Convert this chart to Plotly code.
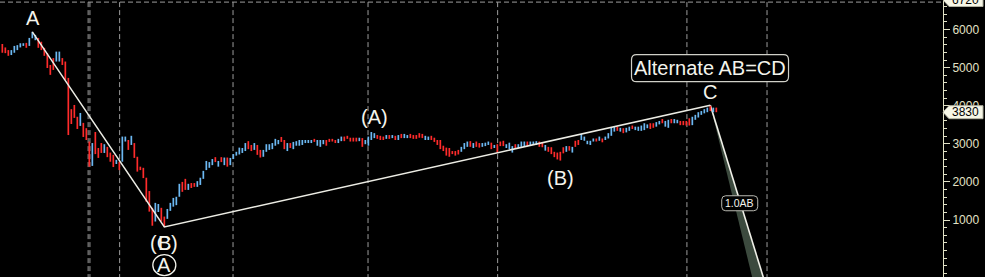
import plotly.graph_objects as go

# ---- data ----
highs = [5620,5530,5460,5460,5570,5590,5640,5640,5650,5780,5940,5860,5780,5680,5520,5380,5070,5250,5420,5420,
         5250,5160,4730,3910,4020,3710,3810,3550,3410,3060,3020,3310,2890,3020,2990,2920,2770,2710,2580,2530,
         3190,3190,3100,3210,3020,2660,2400,2370,2110,1760,1320,1450,1420,1320,1090,1290,1450,1580,1610,1950,
         2000,2080,1950,1970,1970,2020,2110,2290,2550,2520,2600,2650,2550,2650,2640,2640,2630,2730,2790,2900,
         2890,3020,3070,2970,3020,2970,2840,2840,2990,2990,3020,3130,3100,3180,3100,3020,3020,3050,3070,3100,
         3100,3100,3100,3100,3130,3100,3100,3100,3100,3130,3130,3100,3130,3190,3190,3210,3160,3160,3160,3160,
         3150,3100,3190,3310,3280,3230,3210,3190,3230,3230,3230,3210,3230,3260,3260,3230,3260,3230,3230,3280,
         3260,3210,3190,3210,3160,3100,3100,2950,2900,2890,2810,2810,2840,2920,3020,3060,3070,3020,3060,3020,
         3020,3030,3060,3030,2970,2990,3060,3080,2990,3030,2940,2990,2990,3060,3060,3060,3060,3060,3070,3060,
         3030,2970,2920,2910,2790,2770,2790,2910,2940,2940,2920,3080,3100,3260,3190,3080,3080,3140,3140,3190,
         3140,3190,3280,3420,3450,3450,3420,3410,3420,3450,3480,3450,3450,3480,3540,3510,3540,3540,3570,3600,
         3650,3600,3630,3650,3650,3630,3600,3600,3600,3670,3710,3760,3830,3860,3910,3950,4000,3950,3950]
lows = [5390,5380,5310,5330,5390,5460,5530,5570,5520,5570,5770,5720,5520,5460,5310,4990,4810,4940,5160,5160,
        5070,4680,3230,3520,3680,3390,3470,3180,3100,2400,2420,2730,2630,2760,2760,2650,2530,2390,2470,2310,
        2530,3060,2840,2970,2630,2270,2310,2100,1480,1220,850,960,1210,960,820,1030,1240,1350,1390,1610,
        1740,1790,1790,1840,1870,1870,1920,2080,2310,2370,2440,2520,2400,2520,2440,2400,2440,2600,2690,2720,
        2760,2810,2860,2810,2840,2710,2640,2660,2790,2840,2860,2950,2990,3050,2860,2810,2890,2860,2950,2950,
        2970,3020,3020,3020,3050,2950,2920,2990,2950,3050,3060,3020,3020,3070,3070,3130,3060,3060,3060,3070,
        2920,2990,2950,3100,3150,3130,3100,3100,3130,3130,3150,3100,3100,3150,3150,3150,3150,3130,3130,3160,
        3150,3100,3100,3100,3050,2970,2860,2810,2690,2660,2730,2690,2720,2790,2860,2920,2920,2890,2920,2900,
        2920,2940,2970,2860,2890,2760,2940,2940,2890,2860,2770,2890,2890,2920,2920,2940,2970,2970,2970,2920,
        2910,2820,2790,2730,2650,2590,2560,2750,2790,2820,2770,2920,2970,3100,3080,2990,2970,3060,3060,3080,
        3040,3100,3140,3210,3320,3340,3320,3280,3300,3340,3390,3360,3340,3340,3360,3410,3390,3420,3450,3510,
        3540,3450,3420,3540,3540,3540,3490,3490,3480,3480,3490,3630,3690,3760,3800,3830,3860,3830,3830]
# 'u' = up bar (blue), 'd' = down bar (red)
dirs = ("ddduuuuuduuudddddduudddddduddduddduddduddd"[:40]
        + "uududdddddduudduuuuuddudduuuuuudududuuuuu"[:40]
        + "uuddudduuuuuudduduuuuuuuduuudddduudddddu"[:40]
        + "duuuudddudududuuddddduudddddddddduuududdd"[:40]
        + "uuududdduuuduuuduuudduddddddududduuuuududdu"[:40]
        + "duuuududuuduuuuudduuduuduudddduuuuuudud"[:39])

wave_pts_x = [10, 54, 236]
wave_pts_y = [5940, 820, 4010]
proj_x = [236, 256, 251.8]
proj_y = [4010, -1100, -1100]
grid_x = [28.6, 29.2, 39.1, 76.9, 121.9, 165.1, 228.2, 254.9]
y_ticks = [1000, 2000, 3000, 4000, 5000, 6000]
last_price = 3830
top_price = 6720

RED = "#ff2b2b"
BLUE = "#6cb8f2"
BEIGE = "#e2e2c6"

fig = go.Figure()

# wedge projection
fig.add_trace(go.Scatter(x=proj_x + [proj_x[0]], y=proj_y + [proj_y[0]], mode="lines",
                         fill="toself", fillcolor="rgb(60,74,62)", line=dict(width=0),
                         hoverinfo="skip", showlegend=False))
fig.add_trace(go.Scatter(x=proj_x[:2], y=proj_y[:2], mode="lines",
                         line=dict(color="#f0f0e8", width=1.6), hoverinfo="skip", showlegend=False))

# bars
for col, key in ((BLUE, "u"), (RED, "d")):
    xs, ys = [], []
    for i, (h, l) in enumerate(zip(highs, lows)):
        if dirs[i] == key:
            xs += [i, i, None]
            ys += [l, h, None]
    fig.add_trace(go.Scatter(x=xs, y=ys, mode="lines", line=dict(color=col, width=1.7),
                             hoverinfo="skip", showlegend=False))

# wave lines
fig.add_trace(go.Scatter(x=wave_pts_x, y=wave_pts_y, mode="lines",
                         line=dict(color="#ecece4", width=1.5), hoverinfo="skip", showlegend=False))

shapes = []
for gx in grid_x:
    shapes.append(dict(type="line", xref="x", yref="y", x0=gx, x1=gx, y0=top_price, y1=-600,
                       line=dict(color="#9c9c9c", width=1, dash="5px,3px"), layer="below"))
shapes.append(dict(type="line", xref="paper", yref="y", x0=0, x1=1, y0=top_price, y1=top_price,
                   line=dict(color="#9c9c9c", width=1, dash="5px,3px"), layer="below"))


def rrect(w, h, r):
    x0, x1, y0, y1 = -w / 2, w / 2, -h / 2, h / 2
    return (f"M {x0+r},{y0} L {x1-r},{y0} Q {x1},{y0} {x1},{y0+r} L {x1},{y1-r} "
            f"Q {x1},{y1} {x1-r},{y1} L {x0+r},{y1} Q {x0},{y1} {x0},{y1-r} "
            f"L {x0},{y0+r} Q {x0},{y0} {x0+r},{y0} Z")


# circled A
shapes.append(dict(type="circle", xref="x", yref="y", xsizemode="pixel", ysizemode="pixel",
                   xanchor=54, yanchor=-185, x0=-11.5, x1=11.5, y0=-10.5, y1=10.5,
                   line=dict(color="#f4f4ec", width=1.3)))
# Alternate box
shapes.append(dict(type="path", xref="x", yref="y", xsizemode="pixel", ysizemode="pixel",
                   xanchor=235.9, yanchor=4985, path=rrect(157, 27, 5),
                   fillcolor="black", line=dict(color="#d0d0c8", width=1.2), layer="above"))
# 1.0AB box
shapes.append(dict(type="path", xref="x", yref="y", xsizemode="pixel", ysizemode="pixel",
                   xanchor=245.8, yanchor=1440, path=rrect(36, 15, 4),
                   fillcolor="black", line=dict(color="#b8b8b0", width=1), layer="above"))
# price tags on axis
tag = "M 0,0 L 6,6.5 L 40,6.5 L 40,-6.5 L 6,-6.5 Z"
shapes.append(dict(type="path", xref="paper", yref="y", xsizemode="pixel", ysizemode="pixel",
                   xanchor=1, yanchor=last_price, path=tag, fillcolor="#f6f6e6",
                   line=dict(color="#b0b0a0", width=1), layer="above"))
shapes.append(dict(type="path", xref="paper", yref="paper", xsizemode="pixel", ysizemode="pixel",
                   xanchor=1, yanchor=1, path=tag, fillcolor="#f6f6e6",
                   line=dict(color="#b0b0a0", width=1), layer="above"))

FONT = "Liberation Sans, Arial, sans-serif"
ann = []


def label(x, y, t, size=20, color="#f4f4ec", xref="x", yref="y"):
    ann.append(dict(x=x, y=y, xref=xref, yref=yref, text=t, showarrow=False,
                    font=dict(family=FONT, size=size, color=color),
                    xanchor="center", yanchor="middle"))


label(10.2, 6300, "A")
label(53.9, 400, "(C)")
label(53.9, 400, "B")
label(54, -190, "A")
label(123.9, 3700, "(A)")
label(185.9, 2100, "(B)")
label(235.9, 4360, "C")
label(235.9, 4985, "Alternate AB=CD")
label(245.8, 1440, "1.0AB", size=10.5)
ann.append(dict(x=1, y=last_price, xref="paper", yref="y", text=str(last_price), showarrow=False,
                xanchor="left", xshift=7, yanchor="middle",
                font=dict(family=FONT, size=12, color="black")))
ann.append(dict(x=1, y=1, xref="paper", yref="paper", text=str(top_price), showarrow=False,
                xanchor="left", xshift=7, yanchor="middle",
                font=dict(family=FONT, size=12, color="black")))

fig.update_layout(
    width=985, height=277,
    margin=dict(l=0, r=42, t=0, b=0),
    paper_bgcolor="black", plot_bgcolor="black",
    shapes=shapes, annotations=ann, showlegend=False,
    xaxis=dict(range=[-0.778, 313.56], visible=False, fixedrange=True),
    yaxis=dict(range=[-496, 6775], side="right", tickvals=y_ticks,
               ticks="outside", ticklen=6, tickcolor=BEIGE, tickwidth=1,
               showline=True, linecolor=BEIGE, linewidth=1, showgrid=False, zeroline=False,
               tickfont=dict(family=FONT, size=12, color=BEIGE),
               minor=dict(dtick=200, ticks="outside", ticklen=3, tickcolor=BEIGE, showgrid=False),
               fixedrange=True),
)

fig.write_html("out.html", config={"displayModeBar": False})
